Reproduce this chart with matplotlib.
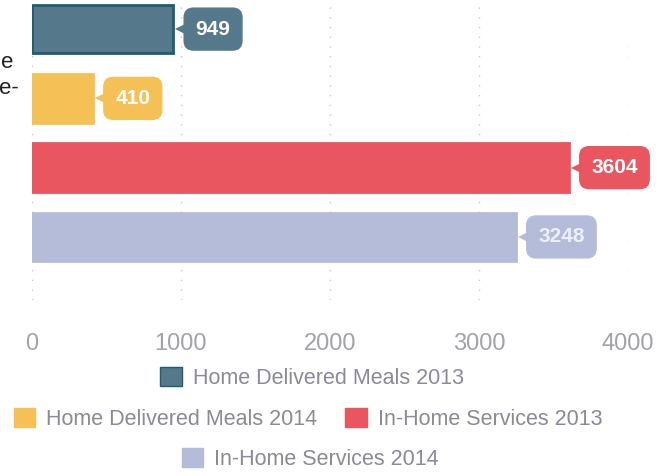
import matplotlib.pyplot as plt
from matplotlib.patches import Patch
from matplotlib.transforms import offset_copy

plt.rcParams['font.family'] = ['Liberation Sans', 'DejaVu Sans']

# ---- data ----
series = ["Home Delivered Meals 2013", "Home Delivered Meals 2014",
          "In-Home Services 2013", "In-Home Services 2014"]
values = [949, 410, 3604, 3248]
colors = ["#55798a", "#f5c157", "#e9565f", "#b5bcda"]
edges = ["#1f5c75", "#f5c157", "#e9565f", "#b5bcda"]
label_colors = ["white", "white", "white", "#eef0f8"]
xticks = [0, 1000, 2000, 3000, 4000]

W, H = 659, 476
fig = plt.figure(figsize=(W / 100, H / 100), dpi=100)
ax = fig.add_axes([32 / W, 1 - 300 / H, (628 - 32) / W, 300 / H])

ypos = list(range(len(values)))
ax.barh(ypos, values, height=0.7, color=colors, edgecolor=edges, linewidth=2)

tri_tr = offset_copy(ax.transData, fig=fig, x=12, y=0, units='dots')
for y, v, c, tc in zip(ypos, values, colors, label_colors):
    ax.plot(v, y, marker='<', markersize=15, color=c, transform=tri_tr,
            markeredgewidth=0, clip_on=False)
    ax.annotate(str(v), xy=(v, y), xytext=(16, 0), textcoords='offset points',
                ha='left', va='center', fontsize=15, fontweight='bold', color=tc,
                bbox=dict(boxstyle='round,pad=0.55,rounding_size=0.45', fc=c, ec=c),
                annotation_clip=False)

ax.set_xlim(0, 4000)
ax.set_ylim(3.91, -0.42)
ax.set_xticks(xticks)
ax.set_xticklabels([str(t) for t in xticks], fontsize=17, color="#a2a2aa")
ax.tick_params(axis='x', length=0, pad=24)
ax.set_yticks([])
for s in ax.spines.values():
    s.set_visible(False)
ax.grid(axis='x', linestyle=(0, (1, 6)), color='#c8c8c8', linewidth=1)
ax.set_axisbelow(True)

# cut-off axis title on the left
fig.text(13 / W, 1 - 62 / H, "e", ha='right', va='center', fontsize=16, color='#222222')
fig.text(19 / W, 1 - 89 / H, "e-", ha='right', va='center', fontsize=16, color='#222222')

handles = [Patch(facecolor=c, edgecolor=e) for c, e in zip(colors, edges)]
common = dict(frameon=False, fontsize=15.5, labelcolor='#8a8a98', handlelength=1.0,
              handleheight=1.0, handletextpad=0.5, columnspacing=1.3)
fig.legend(handles[:1], series[:1], loc='center', bbox_to_anchor=(312 / W, 1 - 378 / H), **common)
fig.legend(handles[1:3], series[1:3], ncol=2, loc='center',
           bbox_to_anchor=(308 / W, 1 - 419 / H), **common)
fig.legend(handles[3:], series[3:], loc='center', bbox_to_anchor=(310 / W, 1 - 459 / H), **common)

fig.savefig("out.png", dpi=100)
